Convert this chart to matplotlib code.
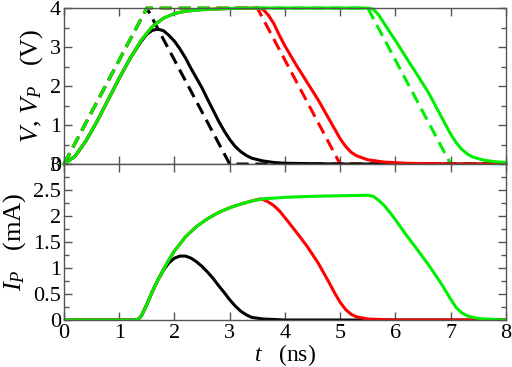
import matplotlib
matplotlib.use("Agg")
import matplotlib.pyplot as plt
from matplotlib.ticker import MultipleLocator

plt.rcParams["font.family"] = ["Liberation Serif", "DejaVu Serif"]
plt.rcParams["mathtext.fontset"] = "custom"
plt.rcParams["mathtext.rm"] = "Liberation Serif"
plt.rcParams["mathtext.it"] = "Liberation Serif:italic"

# applied pulses V (dashed)
t_v_black = [0, 1.5, 3.0, 8.0]
v_black = [0, 4, 0, 0]
t_v_red = [0, 1.5, 3.5, 5.0, 8.0]
v_red = [0, 4, 4, 0, 0]
t_v_green = [0, 1.5, 5.5, 7.0, 8.0]
v_green = [0, 4, 4, 0, 0]

# response V_P (solid)
t_vp_black = [0, 0.2, 0.4, 0.6, 0.8, 1.0, 1.2, 1.4, 1.5, 1.6, 1.7, 1.8, 1.9, 2.0,
              2.1, 2.2, 2.3, 2.4, 2.5, 2.6, 2.7, 2.8, 2.9, 3.0, 3.1, 3.2, 3.3,
              3.4, 3.6, 3.8, 4.0, 5.0, 8.0]
vp_black = [0, 0.2, 0.6, 1.1, 1.65, 2.2, 2.72, 3.15, 3.33, 3.43, 3.46, 3.42, 3.3,
            3.15, 2.95, 2.72, 2.45, 2.2, 1.95, 1.66, 1.38, 1.1, 0.85, 0.63, 0.45,
            0.32, 0.22, 0.15, 0.08, 0.04, 0.02, 0.0, 0.0]
t_vp_red = [0, 0.2, 0.4, 0.6, 0.8, 1.0, 1.2, 1.4, 1.6, 1.8, 2.0, 2.2, 2.5, 3.0,
            3.5, 3.6, 3.7, 3.8, 3.9, 4.0, 4.2, 4.4, 4.6, 4.8, 4.9, 5.0, 5.1, 5.2,
            5.3, 5.5, 5.8, 6.2, 7.0, 8.0]
vp_red = [0, 0.2, 0.6, 1.1, 1.65, 2.2, 2.72, 3.18, 3.53, 3.74, 3.86, 3.92, 3.96,
          3.99, 4.0, 3.97, 3.82, 3.6, 3.3, 3.03, 2.55, 2.1, 1.65, 1.15, 0.9, 0.65,
          0.45, 0.3, 0.21, 0.11, 0.05, 0.02, 0.0, 0.0]
t_vp_green = [0, 0.2, 0.4, 0.6, 0.8, 1.0, 1.2, 1.4, 1.6, 1.8, 2.0, 2.2, 2.5, 3.0,
              3.5, 5.5, 5.6, 5.7, 5.8, 5.9, 6.0, 6.2, 6.4, 6.6, 6.8, 6.9, 7.0,
              7.1, 7.2, 7.3, 7.4, 7.6, 7.8, 8.0]
vp_green = [0, 0.2, 0.6, 1.1, 1.65, 2.2, 2.72, 3.18, 3.53, 3.74, 3.86, 3.92, 3.96,
            3.99, 4.0, 4.0, 3.97, 3.82, 3.6, 3.38, 3.17, 2.72, 2.28, 1.83, 1.3,
            1.03, 0.77, 0.55, 0.38, 0.26, 0.18, 0.1, 0.06, 0.04]

# current I_P
t_i_black = [0, 1.3, 1.35, 1.4, 1.5, 1.6, 1.7, 1.8, 1.9, 2.0, 2.1, 2.2, 2.3, 2.4,
             2.5, 2.6, 2.7, 2.8, 2.9, 3.0, 3.1, 3.2, 3.3, 3.4, 3.6, 4.0, 8.0]
i_black = [0, 0.0, 0.02, 0.08, 0.3, 0.55, 0.77, 0.96, 1.1, 1.19, 1.23, 1.23, 1.19,
           1.12, 1.03, 0.92, 0.8, 0.66, 0.53, 0.39, 0.27, 0.17, 0.1, 0.05, 0.02,
           0.0, 0.0]
t_i_red = [0, 1.3, 1.35, 1.4, 1.5, 1.6, 1.7, 1.8, 1.9, 2.0, 2.2, 2.4, 2.6, 2.8,
           3.0, 3.2, 3.4, 3.55, 3.6, 3.7, 3.8, 3.9, 4.0, 4.2, 4.4, 4.6, 4.8, 4.9,
           5.0, 5.1, 5.2, 5.3, 5.5, 6.0, 8.0]
i_red = [0, 0.0, 0.02, 0.08, 0.3, 0.55, 0.77, 0.97, 1.16, 1.33, 1.6, 1.8, 1.95,
         2.07, 2.16, 2.23, 2.29, 2.33, 2.32, 2.27, 2.2, 2.1, 1.97, 1.7, 1.42, 1.1,
         0.72, 0.52, 0.34, 0.2, 0.11, 0.06, 0.02, 0.0, 0.0]
t_i_green = [0, 1.3, 1.35, 1.4, 1.5, 1.6, 1.7, 1.8, 1.9, 2.0, 2.2, 2.4, 2.6, 2.8,
             3.0, 3.2, 3.4, 3.6, 4.0, 4.5, 5.0, 5.5, 5.6, 5.7, 5.8, 5.9, 6.0, 6.2,
             6.4, 6.6, 6.8, 6.9, 7.0, 7.1, 7.2, 7.3, 7.5, 7.8, 8.0]
i_green = [0, 0.0, 0.02, 0.08, 0.3, 0.55, 0.77, 0.97, 1.16, 1.33, 1.6, 1.8, 1.95,
           2.07, 2.16, 2.23, 2.29, 2.33, 2.36, 2.38, 2.39, 2.4, 2.38, 2.3, 2.2,
           2.07, 1.93, 1.63, 1.35, 1.06, 0.75, 0.58, 0.4, 0.24, 0.14, 0.08, 0.03,
           0.01, 0.0]

BLACK = "#000000"
RED = "#ff0000"
GREEN = "#00ee00"
LW = 2.2

fig = plt.figure(figsize=(5.12, 3.67), dpi=100)
ax_top = fig.add_axes([0.125, 0.553, 0.863, 0.425])
ax_bot = fig.add_axes([0.125, 0.128, 0.863, 0.425])

dash = (0, (4, 2.2))
ax_top.plot(t_v_black, v_black, color=BLACK, lw=LW, ls=dash, clip_on=False)
ax_top.plot(t_v_red, v_red, color=RED, lw=LW, ls=dash, clip_on=False)
ax_top.plot(t_v_green, v_green, color=GREEN, lw=LW, ls=dash, clip_on=False)
ax_top.plot(t_vp_black, vp_black, color=BLACK, lw=LW)
ax_top.plot(t_vp_red, vp_red, color=RED, lw=LW, clip_on=False)
ax_top.plot(t_vp_green, vp_green, color=GREEN, lw=LW, clip_on=False)

ax_bot.plot(t_i_black, i_black, color=BLACK, lw=LW)
ax_bot.plot(t_i_red, i_red, color=RED, lw=LW)
ax_bot.plot(t_i_green, i_green, color=GREEN, lw=LW)

ax_top.set_ylim(0, 4)
ax_bot.set_ylim(0, 3)
for ax in (ax_top, ax_bot):
    ax.set_xlim(0, 8)
    ax.xaxis.set_major_locator(MultipleLocator(1))
    ax.tick_params(which="both", direction="in", top=True, right=True,
                   labelsize=16, color="#555555", width=1.0)
    ax.tick_params(which="major", length=6)
    ax.tick_params(which="minor", length=3.5)
    ax.tick_params(axis="y", pad=2)
    ax.tick_params(axis="x", pad=3)
    for sp in ax.spines.values():
        sp.set_color("#555555")
        sp.set_linewidth(1.0)

ax_top.yaxis.set_major_locator(MultipleLocator(1))
ax_top.yaxis.set_minor_locator(MultipleLocator(0.5))
ax_top.tick_params(labelbottom=False)
ax_bot.yaxis.set_minor_locator(MultipleLocator(0.25))
ax_bot.set_yticks([0, 0.5, 1, 1.5, 2, 2.5, 3])
ax_bot.set_yticklabels(["0", "0.5", "1", "1.5", "2", "2.5", "3"])

ax_top.set_ylabel(r"$V$, $V_P$   (V)", fontsize=19, labelpad=4)
ax_bot.set_ylabel(r"$I_P$   (mA)", fontsize=19, labelpad=4)
ax_bot.set_xlabel(r"$t$   (ns)", fontsize=17, labelpad=-1)
fig.align_ylabels([ax_top, ax_bot])

fig.savefig("out.png", dpi=100)
